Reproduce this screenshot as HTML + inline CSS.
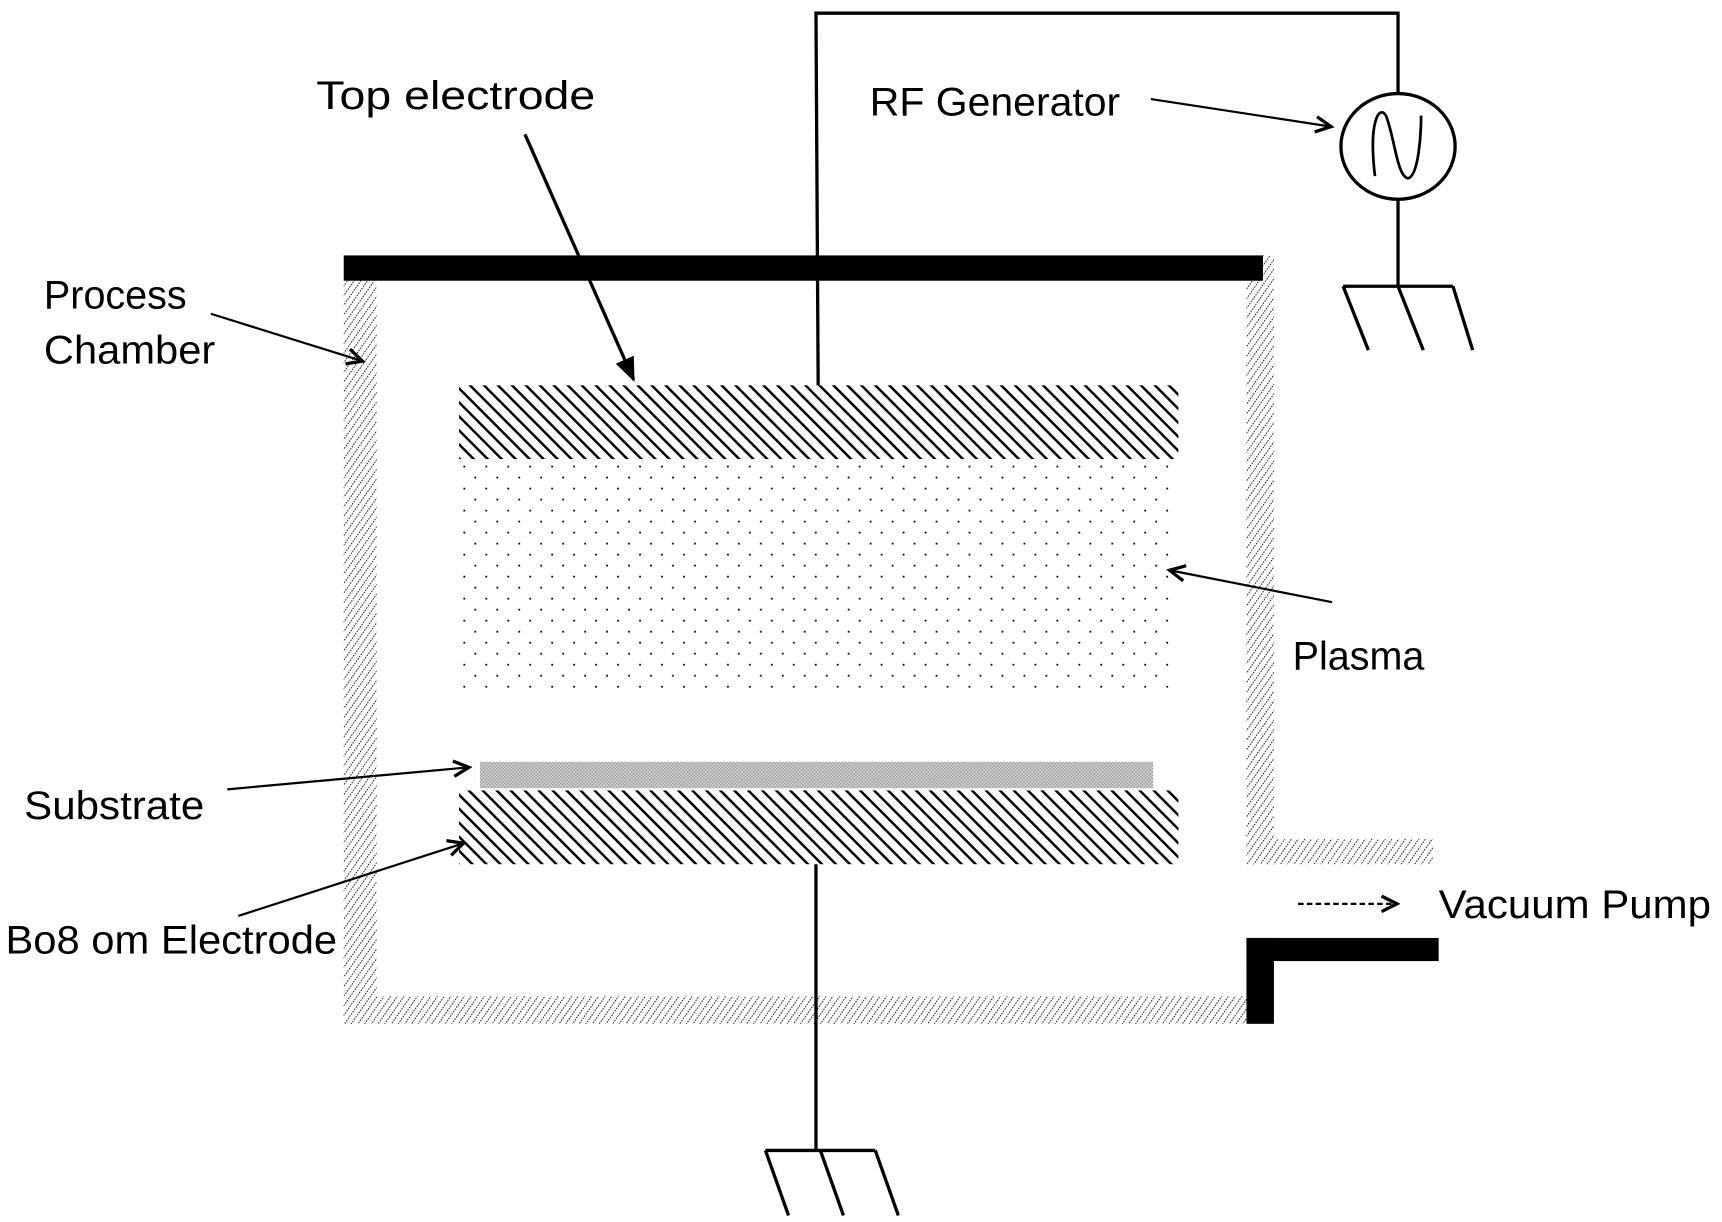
<!DOCTYPE html>
<html><head><meta charset="utf-8"><style>html,body{margin:0;padding:0;background:#fff}svg{display:block}</style></head>
<body>
<svg width="1722" height="1222" viewBox="0 0 1568 1110" preserveAspectRatio="none" xmlns="http://www.w3.org/2000/svg">
<defs>
<pattern id="wall" patternUnits="userSpaceOnUse" width="5" height="5" patternTransform="rotate(35)">
<rect width="5" height="5" fill="#fff"/><line x1="0" y1="0" x2="0" y2="5" stroke="#000" stroke-width="1.6" stroke-dasharray="1.5 1"/>
</pattern>
<pattern id="elec" patternUnits="userSpaceOnUse" width="9" height="9" patternTransform="rotate(-45)">
<rect width="9" height="9" fill="#fff"/><line x1="0" y1="0" x2="0" y2="9" stroke="#000" stroke-width="4.5"/>
</pattern>
<pattern id="dots" patternUnits="userSpaceOnUse" width="20" height="20">
<rect width="20" height="20" fill="#fff"/><rect x="2" y="3" width="1.6" height="1.6" fill="#000"/><rect x="12" y="13" width="1.6" height="1.6" fill="#000"/>
</pattern>
<pattern id="chk" patternUnits="userSpaceOnUse" width="3" height="3">
<rect width="3" height="3" fill="#ddd"/><rect width="1.5" height="1.5" fill="#999"/><rect x="1.5" y="1.5" width="1.5" height="1.5" fill="#999"/>
</pattern>
<marker id="ah" markerWidth="10" markerHeight="10" refX="8" refY="5" orient="auto" markerUnits="userSpaceOnUse" viewBox="0 0 10 10">
<path d="M1,1 L9,5 L1,9" fill="none" stroke="#000" stroke-width="2"/>
</marker>
<marker id="ahf" markerWidth="22" markerHeight="22" refX="20" refY="11" orient="auto" markerUnits="userSpaceOnUse">
<path d="M0,2 L22,11 L0,20 Z" fill="#000"/>
</marker>
<marker id="aho" markerWidth="20" markerHeight="20" refX="17" refY="10" orient="auto" markerUnits="userSpaceOnUse">
<path d="M3,3 L17,10 L3,17" fill="none" stroke="#000" stroke-width="3"/>
</marker>
</defs>

<!-- chamber walls -->
<rect x="313" y="255" width="30" height="675" fill="url(#wall)"/>
<rect x="313" y="905" width="822" height="25" fill="url(#wall)"/>
<rect x="1135" y="232" width="25" height="553" fill="url(#wall)"/>
<rect x="1135" y="762" width="170" height="23" fill="url(#wall)"/>
<rect x="313" y="232" width="837" height="23" fill="#000"/>
<rect x="1135" y="852" width="25" height="78" fill="#000"/>
<rect x="1135" y="852" width="175" height="21" fill="#000"/>

<!-- electrodes, plasma, substrate -->
<rect x="418" y="350" width="655" height="67" fill="url(#elec)"/>
<rect x="418" y="420" width="647" height="205" fill="url(#dots)"/>
<rect x="437" y="692" width="613" height="24" fill="url(#chk)"/>
<rect x="418" y="718" width="655" height="67" fill="url(#elec)"/>

<!-- wires -->
<polyline points="745,350 743,12 1273,12 1273,85" fill="none" stroke="#000" stroke-width="3"/>
<ellipse cx="1273" cy="133" rx="52" ry="48" fill="#fff" stroke="#000" stroke-width="3"/>
<path d="M1252,160 C1246,110 1256,95 1262,105 C1270,125 1272,160 1282,162 C1292,160 1294,120 1294,105" fill="none" stroke="#000" stroke-width="2.5"/>
<line x1="1273" y1="181" x2="1273" y2="260" stroke="#000" stroke-width="3"/>
<path d="M1223,260 H1323 M1223,260 L1246,318 M1273,260 L1296,318 M1323,260 L1341,318" fill="none" stroke="#000" stroke-width="3"/>
<line x1="743" y1="785" x2="743" y2="1045" stroke="#000" stroke-width="3"/>
<path d="M697,1045 H797 M697,1045 L718,1104 M747,1045 L768,1104 M797,1045 L818,1104" fill="none" stroke="#000" stroke-width="3"/>

<!-- pointers -->
<line x1="478" y1="122" x2="577" y2="345" stroke="#000" stroke-width="3" marker-end="url(#ahf)"/>
<line x1="192" y1="285" x2="330" y2="328" stroke="#000" stroke-width="2" marker-end="url(#aho)"/>
<line x1="1048" y1="90" x2="1212" y2="115" stroke="#000" stroke-width="2" marker-end="url(#aho)"/>
<line x1="1213" y1="547" x2="1065" y2="518" stroke="#000" stroke-width="2" marker-end="url(#aho)"/>
<line x1="207" y1="717" x2="427" y2="697" stroke="#000" stroke-width="2" marker-end="url(#aho)"/>
<line x1="217" y1="832" x2="422" y2="766" stroke="#000" stroke-width="2" marker-end="url(#aho)"/>
<line x1="1182" y1="821" x2="1272" y2="821" stroke="#000" stroke-width="2" stroke-dasharray="5 3" marker-end="url(#aho)"/>

<!-- labels -->
<g font-family="'Liberation Sans', sans-serif" font-size="36" fill="#000">
<text x="288" y="99" textLength="254" lengthAdjust="spacingAndGlyphs">Top electrode</text>
<text x="792" y="105" textLength="228" lengthAdjust="spacingAndGlyphs">RF Generator</text>
<text x="40" y="280" textLength="130" lengthAdjust="spacingAndGlyphs">Process</text>
<text x="40" y="330" textLength="156" lengthAdjust="spacingAndGlyphs">Chamber</text>
<text x="1177" y="608" textLength="120" lengthAdjust="spacingAndGlyphs">Plasma</text>
<text x="22" y="744" textLength="164" lengthAdjust="spacingAndGlyphs">Substrate</text>
<text x="5" y="866" textLength="302" lengthAdjust="spacingAndGlyphs">Bo8 om Electrode</text>
<text x="1310" y="834" textLength="248" lengthAdjust="spacingAndGlyphs">Vacuum Pump</text>
</g>
</svg>
</body></html>
